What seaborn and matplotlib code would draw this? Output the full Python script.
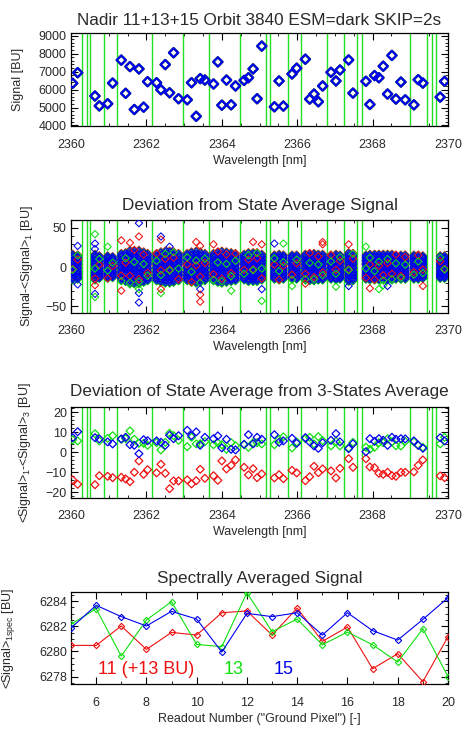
import numpy as np
import pandas as pd
import matplotlib
matplotlib.use("Agg")
import matplotlib.pyplot as plt
import seaborn as sns
from matplotlib.ticker import MultipleLocator

# ---------------- data ----------------
wavelength = [2360.044, 2360.177, 2360.636, 2360.751, 2360.972, 2361.104, 2361.334, 2361.449,
              2361.564, 2361.679, 2361.802, 2361.926, 2362.032, 2362.270, 2362.385, 2362.500,
              2362.615, 2362.721, 2362.853, 2363.083, 2363.197, 2363.321, 2363.427, 2363.551,
              2363.780, 2363.895, 2364.001, 2364.125, 2364.248, 2364.363, 2364.592, 2364.707,
              2364.830, 2364.936, 2365.060, 2365.395, 2365.519, 2365.633, 2365.863, 2365.986,
              2366.216, 2366.331, 2366.446, 2366.561, 2366.675, 2366.896, 2367.028, 2367.134,
              2367.364, 2367.479, 2367.823, 2367.928, 2368.052, 2368.167, 2368.282, 2368.397,
              2368.512, 2368.618, 2368.751, 2368.866, 2369.095, 2369.210, 2369.333, 2369.793,
              2369.908]

signal = [6350, 6940, 5640, 5090, 5210, 6360, 7640, 5790, 7280, 4890, 7150, 5020, 6440,
          6380, 5990, 7390, 5820, 8050, 5490, 5430, 6380, 4510, 6610, 6530, 6310, 7540,
          5130, 6530, 5150, 6200, 6510, 6660, 7150, 5490, 8420, 5040, 6480, 5080, 6870,
          7190, 7690, 5470, 5750, 5320, 6200, 6960, 6480, 7090, 7650, 5800, 6460, 5170,
          6780, 6660, 7300, 5750, 7900, 5470, 6420, 5430, 5150, 6550, 6360, 5580, 6460]

bad_pixels = [2360.283, 2360.415, 2360.512, 2360.866, 2361.210, 2362.155, 2362.968, 2363.666,
              2364.479, 2365.168, 2365.291, 2365.760, 2366.104, 2366.793, 2367.253, 2367.597,
              2367.721, 2368.993, 2369.452, 2369.567, 2369.691]

dev_amplitude = [17, 16, 17, 15, 15, 14, 18, 19, 22, 22, 22, 20, 18, 18, 20, 21, 21, 20, 18,
                 18, 20, 21, 20, 18, 18, 20, 21, 20, 19, 18, 17, 19, 19, 19, 17, 16, 17, 16,
                 16, 16, 17, 18, 18, 17, 17, 16, 17, 16, 19, 18, 16, 17, 17, 17, 17, 17, 17,
                 16, 16, 16, 16, 16, 15, 15, 15]

# relative deviation of the 16 readouts from the state average (cycled along the pixels)
pattern_11 = [0.95, -0.7, 0.3, -0.95, 0.6, -0.2, 0.8, -0.5, 0.1, -0.85, 0.5, -0.4, 1.0, -0.6, 0.2, -0.15]
pattern_13 = [-0.85, 0.6, -0.3, 0.95, -0.5, 0.2, -0.9, 0.4, -0.1, 0.8, -0.6, 0.3, -1.0, 0.7, -0.2, 0.45]
pattern_15 = [0.45, -0.8, 0.7, -0.3, 0.2, -0.6, 0.92, -0.4, 0.55, -0.1, -0.75, 0.3, -0.92, 0.8, 0.0, -0.55]
pixel_shift = 5

# isolated large deviations visible in panel 2
outlier_wl = [2360.177, 2360.177, 2360.636, 2360.636, 2360.636, 2360.636, 2360.636, 2360.636,
              2360.972, 2361.334, 2361.334, 2361.564, 2361.802, 2361.802, 2361.802, 2361.802,
              2361.802, 2362.385, 2362.385, 2362.385, 2362.385, 2362.615, 2363.321, 2363.427,
              2363.427, 2363.427, 2363.427, 2363.780, 2364.248, 2364.830, 2365.060, 2365.060,
              2365.060, 2365.395, 2365.633, 2365.863, 2366.216, 2366.675, 2366.675, 2367.028,
              2367.364, 2367.364, 2367.823, 2367.928, 2368.167, 2368.282, 2368.397, 2369.333]
outlier_val = [27, -22, 42, 30, 23, -34, -38, -23, 26, 34, -30, 31, 56, 39, -45, -33, -28,
               39, 35, -33, -28, 26, 32, 27, -28, -44, -35, 29, -30, 32, 29, -28, -43, 30,
               30, -24, -21, 32, 29, -25, 29, -24, 26, -27, -28, -23, -24, -24]
outlier_state = ["15", "15", "13", "15", "15", "15", "13", "11", "13", "11", "11", "11", "15",
                 "11", "15", "15", "13", "15", "11", "13", "11", "15", "11", "11", "15", "11",
                 "11", "11", "13", "11", "11", "15", "13", "15", "13", "13", "11", "11", "11",
                 "13", "11", "15", "13", "11", "13", "13", "15", "11"]

state_dev_11 = [-13.8, -16.0, -16.2, -11.7, -12.0, -12.7, -12.5, -13.3, -14.7, -10.0, -4.3,
                -11.0, -8.7, -10.3, -6.0, -10.5, -18.2, -14.3, -14.3, -13.8, -15.8, -14.2,
                -8.5, -13.0, -11.7, -14.0, -4.3, -8.3, -6.5, -3.8, -7.5, -11.3, -8.2, -12.7,
                -10.8, -12.8, -11.2, -13.2, -9.0, -10.3, -14.2, -12.2, -7.0, -10.2, -8.3,
                -9.3, -12.8, -8.0, -3.2, -7.5, -3.2, -7.3, -7.7, -10.5, -11.0, -10.0, -11.7,
                -12.0, -10.0, -10.0, -9.8, -6.5, -3.8, -11.8, -12.7]
state_dev_13 = [6.2, 5.7, 9.3, 5.7, 7.0, 8.3, 6.5, 6.8, 10.7, 6.5, 4.5, 4.5, 3.5, 4.8, 1.2,
                5.0, 9.5, 8.3, 6.0, 2.8, 7.5, 4.2, 4.3, 5.3, 3.8, 4.7, 3.8, 1.5, 4.8, 3.3,
                3.8, 2.5, 4.8, 4.8, 4.2, 3.8, 6.5, 7.7, 2.2, 5.2, 6.8, 7.5, 4.2, 7.8, 5.8,
                3.2, 5.5, 3.2, 2.2, 5.0, 2.5, 1.5, 2.5, 4.8, 4.8, 6.8, 5.3, 3.3, 3.2, 5.5,
                5.2, 3.5, 2.5, 4.2, 7.5]
state_dev_15 = [7.3, 10.3, 7.3, 6.7, 5.2, 4.2, 6.7, 7.5, 3.8, 3.5, -0.7, 6.3, 5.8, 5.7, 5.0,
                3.5, 8.5, 6.8, 8.3, 11.0, 8.3, 10.2, 3.5, 7.5, 6.8, 8.2, 2.2, 6.5, 1.5, 1.2,
                4.0, 8.8, 4.2, 7.5, 6.5, 8.8, 5.0, 5.7, 7.0, 4.5, 7.3, 5.2, 3.2, 2.0, 4.8,
                6.0, 9.3, 5.2, 1.8, 4.3, 0.3, 6.8, 5.5, 6.8, 6.0, 3.5, 7.5, 6.5, 6.8, 6.7,
                5.7, 3.5, 2.0, 7.3, 5.7]

readout = list(range(5, 21))
spec_11 = [6280.48, 6280.48, 6282.02, 6280.16, 6281.51, 6281.30, 6283.07, 6283.21, 6281.30,
           6283.44, 6280.80, 6281.94, 6278.63, 6279.82, 6277.60, 6281.17]
spec_13 = [6282.15, 6283.39, 6279.63, 6282.49, 6283.95, 6280.56, 6280.38, 6284.66, 6281.57,
           6282.57, 6280.53, 6281.54, 6280.53, 6279.16, 6281.80, 6278.00]
spec_15 = [6281.86, 6283.66, 6282.76, 6282.02, 6283.18, 6282.57, 6279.95, 6283.02, 6282.76,
           6283.07, 6281.30, 6283.07, 6281.65, 6280.90, 6282.54, 6284.26]

states = ["11", "13", "15"]
# ---------------- style ----------------
sns.set_style("ticks")
plt.rcParams["font.family"] = ["Liberation Sans", "DejaVu Sans"]
plt.rcParams["mathtext.default"] = "regular"
TXT = "#2a2a2a"
plt.rcParams["text.color"] = TXT
plt.rcParams["axes.labelcolor"] = TXT
plt.rcParams["xtick.color"] = "black"
plt.rcParams["ytick.color"] = "black"
plt.rcParams["xtick.labelcolor"] = TXT
plt.rcParams["ytick.labelcolor"] = TXT

COL = {"11": "#f01010", "13": "#10e010", "15": "#0000f0"}
LINE_GREEN = "#22e022"

W, H = 465, 731
fig = plt.figure(figsize=(W / 100, H / 100), dpi=100)


def add_ax(top, bottom):
    return fig.add_axes([71 / W, 1 - bottom / H, 377 / W, (bottom - top) / H])


ax1 = add_ax(33, 126)
ax2 = add_ax(220, 312.7)
ax3 = add_ax(406.7, 497.7)
ax4 = add_ax(592.3, 684)

TFS = 12.3
LFS = 9


def style(ax, xmaj, xmin, ymaj, ymin):
    ax.tick_params(which="both", direction="in", top=True, right=True, labelsize=LFS)
    ax.tick_params(which="major", length=5, width=0.8)
    ax.tick_params(which="minor", length=2.5, width=0.6)
    ax.tick_params(axis="x", pad=9)
    ax.tick_params(axis="y", pad=3)
    ax.xaxis.set_major_locator(MultipleLocator(xmaj))
    ax.xaxis.set_minor_locator(MultipleLocator(xmin))
    ax.yaxis.set_major_locator(MultipleLocator(ymaj))
    ax.yaxis.set_minor_locator(MultipleLocator(ymin))
    for s in ax.spines.values():
        s.set_visible(True)
        s.set_linewidth(0.9)
        s.set_color("black")


def bad_lines(ax):
    for b in bad_pixels:
        ax.axvline(b, color=LINE_GREEN, lw=1.0, zorder=1)


# ---- panel 1
bad_lines(ax1)
for st in states:
    sns.scatterplot(x=wavelength, y=signal, ax=ax1, marker="D", s=22, facecolors="none",
                    edgecolor=COL[st], linewidth=1.6, zorder=3)
ax1.set_xlim(2360, 2370)
ax1.set_ylim(3970, 9150)
style(ax1, 2, 0.5, 1000, 200)
ax1.set_title("Nadir 11+13+15 Orbit 3840 ESM=dark SKIP=2s", fontsize=TFS, pad=6, color=TXT)
ax1.set_xlabel("Wavelength [nm]", fontsize=LFS, labelpad=3)
ax1.set_ylabel("Signal [BU]", fontsize=LFS)
ax1.yaxis.set_label_coords(-0.125, 0.5)

# ---- panel 2: states 11 and 13 first, then 15, with one readout of 11/13 on top
bad_lines(ax2)
patterns = {"11": pattern_11, "13": pattern_13, "15": pattern_15}
draw_order = ([("11", r) for r in range(15)] + [("13", r) for r in range(16) if r != 14]
              + [("15", r) for r in range(16)]
              + [("11", 15), ("13", 14)])
rows = []
for st, r in draw_order:
    for i, (wl, amp) in enumerate(zip(wavelength, dev_amplitude)):
        p = patterns[st][(r + pixel_shift * i) % len(readout)]
        rows.append((st, wl, amp * p))
for wl, v, st in zip(outlier_wl, outlier_val, outlier_state):
    rows.append((st, wl, v))
dev = pd.DataFrame(rows, columns=["state", "wavelength", "deviation"])
dev["edge"] = dev["state"].map(COL)
sns.scatterplot(data=dev, x="wavelength", y="deviation", ax=ax2, marker="D", s=14,
                facecolors="none", edgecolor=dev["edge"].tolist(), linewidth=0.75,
                zorder=3, legend=False)
ax2.set_xlim(2360, 2370)
ax2.set_ylim(-58, 60)
style(ax2, 2, 0.5, 50, 10)
ax2.set_title("Deviation from State Average Signal", fontsize=TFS, pad=7, color=TXT)
ax2.set_xlabel("Wavelength [nm]", fontsize=LFS, labelpad=3)
ax2.set_ylabel("Signal-<Signal>$_1$ [BU]", fontsize=LFS)
ax2.yaxis.set_label_coords(-0.095, 0.5)

# ---- panel 3
bad_lines(ax3)
sd = {"11": state_dev_11, "13": state_dev_13, "15": state_dev_15}
for st in states:
    sns.scatterplot(x=wavelength, y=sd[st], ax=ax3, marker="D", s=16, facecolors="none",
                    edgecolor=COL[st], linewidth=0.9, zorder=3)
ax3.set_xlim(2360, 2370)
ax3.set_ylim(-22.7, 22.8)
style(ax3, 2, 0.5, 10, 2)
ax3.set_title("Deviation of State Average from 3-States Average", fontsize=TFS, pad=8, color=TXT)
ax3.set_xlabel("Wavelength [nm]", fontsize=LFS, labelpad=3)
ax3.set_ylabel("<Signal>$_1$-<Signal>$_3$ [BU]", fontsize=LFS)
ax3.yaxis.set_label_coords(-0.10, 0.5)

# ---- panel 4
sp = {"11": spec_11, "13": spec_13, "15": spec_15}
for st in states:
    sns.lineplot(x=readout, y=sp[st], ax=ax4, color=COL[st], lw=0.8, marker="D",
                 markersize=3.2, markerfacecolor="none", markeredgecolor=COL[st],
                 markeredgewidth=0.8, zorder=3)
ax4.set_xlim(5, 20)
ax4.set_ylim(6277.42, 6284.69)
style(ax4, 2, 1, 2, 0.5)
ax4.set_title("Spectrally Averaged Signal", fontsize=TFS, pad=7, color=TXT)
ax4.set_xlabel('Readout Number ("Ground Pixel") [-]', fontsize=LFS, labelpad=3)
ax4.set_ylabel("<Signal>$_{1spec}$ [BU]", fontsize=LFS)
ax4.yaxis.set_label_coords(-0.143, 0.5)
ax4.ticklabel_format(axis="y", useOffset=False, style="plain")

fig.text(98 / W, 1 - 670 / H, "11 (+13 BU)", color=COL["11"], fontsize=13, va="center", ha="left")
fig.text(224 / W, 1 - 670 / H, "13", color=COL["13"], fontsize=13, va="center", ha="left")
fig.text(274 / W, 1 - 670 / H, "15", color=COL["15"], fontsize=13, va="center", ha="left")

fig.savefig("out.png", dpi=100)
